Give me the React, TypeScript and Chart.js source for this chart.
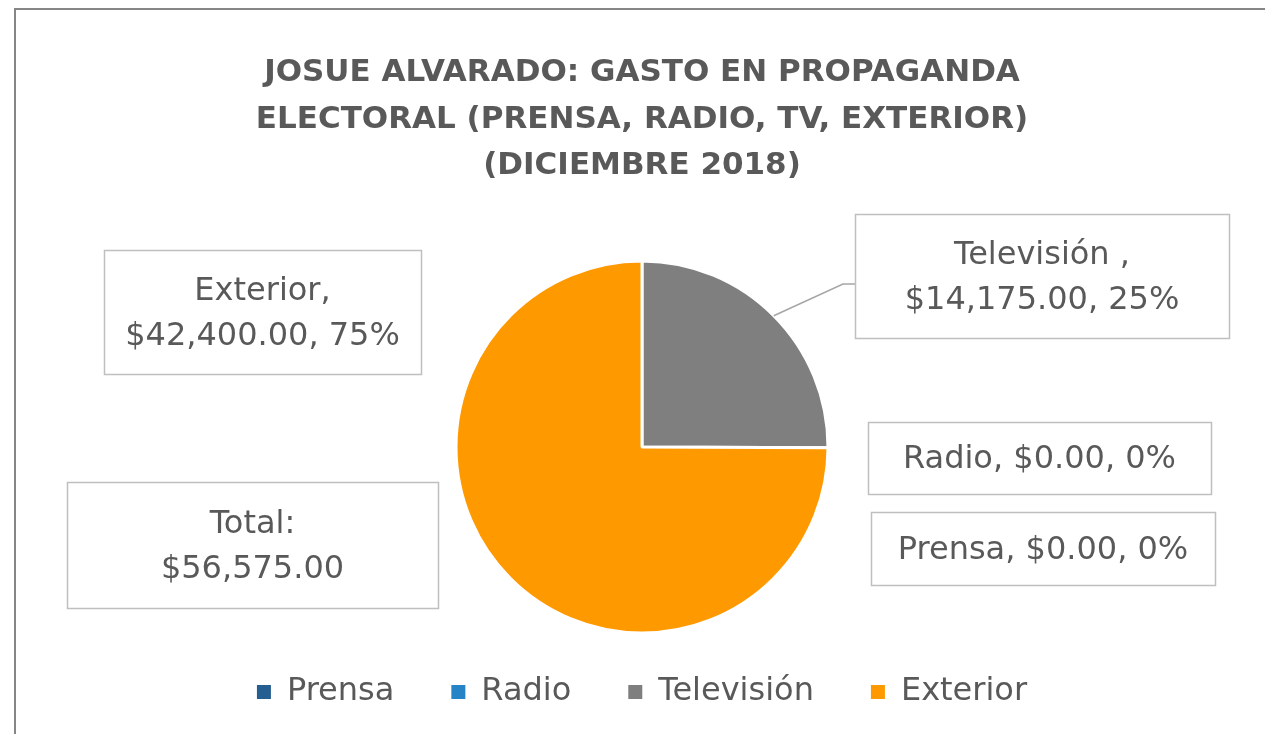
import React, { useEffect, useRef } from "react";
import { Chart, registerables } from "chart.js";

Chart.register(...registerables);

const categories = ["Prensa", "Radio", "Televisión", "Exterior"];
const values = [0, 0, 14175, 42400];
const colors = ["#255E91", "#2683C6", "#7F7F7F", "#FF9900"];
const labelNames = ["Prensa", "Radio", "Televisión ", "Exterior"];
const titleLines = [
  "JOSUE ALVARADO: GASTO EN PROPAGANDA",
  "ELECTORAL (PRENSA, RADIO, TV, EXTERIOR)",
  "(DICIEMBRE 2018)",
];
const totalLabel = "Total:";

const FONT = "'DejaVu Sans', sans-serif";
const TEXT = "#595959";

// layout of the label boxes (canvas px): index matches categories
const boxLayout = [
  { x: 871, y: 512, w: 344, h: 73, twoLines: false },
  { x: 868, y: 422, w: 343, h: 72, twoLines: false },
  { x: 855, y: 214, w: 374, h: 124, twoLines: true },
  { x: 104, y: 250, w: 317, h: 124, twoLines: true },
];
const totalBox = { x: 67, y: 482, w: 371, h: 126 };
const leaderElbow = { x: 843, y: 284 };

const money = (v: number) =>
  "$" + v.toLocaleString("en-US", { minimumFractionDigits: 2, maximumFractionDigits: 2 });

function drawBox(ctx: CanvasRenderingContext2D, b: { x: number; y: number; w: number; h: number }, lines: string[]) {
  ctx.save();
  ctx.fillStyle = "#ffffff";
  ctx.fillRect(b.x, b.y, b.w, b.h);
  ctx.strokeStyle = "#BFBFBF";
  ctx.lineWidth = 1.5;
  ctx.strokeRect(b.x + 0.5, b.y + 0.5, b.w, b.h);
  ctx.fillStyle = TEXT;
  ctx.font = `32px ${FONT}`;
  ctx.textAlign = "center";
  ctx.textBaseline = "middle";
  const lh = 45;
  const cy = b.y + b.h / 2 - ((lines.length - 1) * lh) / 2;
  lines.forEach((l, i) => ctx.fillText(l, b.x + b.w / 2, cy + i * lh + 2));
  ctx.restore();
}

const framePlugin = {
  id: "frame",
  beforeDraw(chart: any) {
    const ctx = chart.ctx as CanvasRenderingContext2D;
    ctx.save();
    ctx.fillStyle = "#ffffff";
    ctx.fillRect(0, 0, chart.width, chart.height);
    ctx.strokeStyle = "#868686";
    ctx.lineWidth = 2;
    ctx.beginPath();
    ctx.moveTo(15, chart.height + 5);
    ctx.lineTo(15, 9);
    ctx.lineTo(chart.width + 5, 9);
    ctx.stroke();
    ctx.restore();
  },
};

const labelPlugin = {
  id: "labelBoxes",
  afterDatasetsDraw(chart: any) {
    const ctx = chart.ctx as CanvasRenderingContext2D;
    const meta = chart.getDatasetMeta(0);
    const total = values.reduce((a, b) => a + b, 0);
    // leader line for Televisión
    const arc = meta.data[2] as any;
    const mid = (arc.startAngle + arc.endAngle) / 2;
    const px = arc.x + Math.cos(mid) * arc.outerRadius;
    const py = arc.y + Math.sin(mid) * arc.outerRadius;
    ctx.save();
    ctx.strokeStyle = "#A6A6A6";
    ctx.lineWidth = 1.5;
    ctx.beginPath();
    ctx.moveTo(px, py);
    ctx.lineTo(leaderElbow.x, leaderElbow.y);
    ctx.lineTo(boxLayout[2].x, leaderElbow.y);
    ctx.stroke();
    ctx.restore();

    values.forEach((v, i) => {
      const pct = Math.round((v / total) * 100) + "%";
      const b = boxLayout[i];
      const lines = b.twoLines
        ? [`${labelNames[i]},`, `${money(v)}, ${pct}`]
        : [`${labelNames[i]}, ${money(v)}, ${pct}`];
      drawBox(ctx, b, lines);
    });
    drawBox(ctx, totalBox, [totalLabel, money(total)]);
  },
};

export default function App() {
  const ref = useRef<HTMLCanvasElement | null>(null);
  useEffect(() => {
    if (!ref.current) return;
    const chart = new Chart(ref.current, {
      type: "pie",
      data: {
        labels: categories,
        datasets: [
          {
            data: values,
            backgroundColor: colors,
            borderColor: "#ffffff",
            borderWidth: 3,
            radius: 186,
            clip: false,
          } as any,
        ],
      },
      options: {
        responsive: false,
        animation: false,
        layout: { padding: { left: 19, right: 0, top: 0, bottom: 16 } },
        plugins: {
          title: {
            display: true,
            text: titleLines,
            color: TEXT,
            font: { family: FONT, size: 31, weight: "bold", lineHeight: 1.5 },
            padding: { top: 50, bottom: 85.5 },
          },
          legend: {
            position: "bottom",
            labels: {
              boxWidth: 14,
              boxHeight: 14,
              padding: 57,
              color: TEXT,
              font: { family: FONT, size: 32 },
              generateLabels: (chart: any) => {
                const base = Chart.overrides.pie.plugins.legend.labels.generateLabels(chart);
                return base.map((it: any) => ({ ...it, lineWidth: 0, strokeStyle: "rgba(0,0,0,0)" }));
              },
            },
          },
          tooltip: { enabled: false },
        },
      },
      plugins: [framePlugin, labelPlugin],
    });
    return () => chart.destroy();
  }, []);
  return (
    <div style={{ position: "fixed", left: 0, top: 0, width: 1265, height: 734, background: "#fff" }}>
      <canvas ref={ref} width={1265} height={734} />
    </div>
  );
}
